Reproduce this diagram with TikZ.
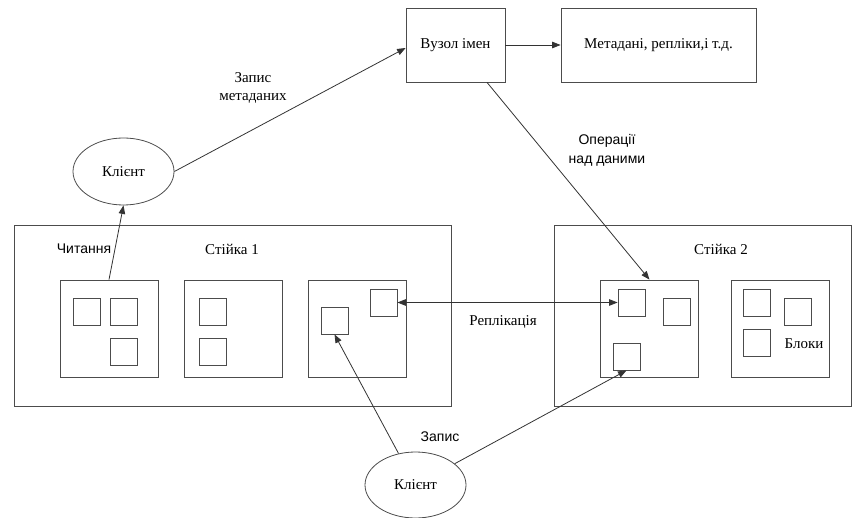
\documentclass[tikz,border=0pt]{standalone}
\usepackage{fontspec}
\setmainfont{Liberation Serif}
\newfontfamily\labelserif{Liberation Serif}
\newfontfamily\labelsans{Liberation Sans}
\usetikzlibrary{arrows.meta,shapes.geometric}
\begin{document}
\begin{tikzpicture}[x=1pt,y=-1pt,
  line width=0.8pt,
  box/.style={draw=black!70,rectangle,inner sep=0pt,font=\labelserif\fontsize{15}{17}\selectfont},
  rack/.style={box,minimum width=#1,minimum height=181pt},
  server/.style={box,minimum width=98pt,minimum height=97pt},
  blk/.style={box,minimum width=27pt,minimum height=27pt},
  client/.style={draw=black!70,ellipse,inner sep=0pt,minimum width=101pt,minimum height=67pt,font=\labelserif\fontsize{15}{17}\selectfont},
  arr/.style={draw=black!80,-{Triangle[length=8.5pt,width=6.5pt]}},
  dblarr/.style={draw=black!80,{Triangle[length=8.5pt,width=6.5pt]}-{Triangle[length=8.5pt,width=6.5pt]}},
  serif/.style={font=\labelserif\fontsize{15}{18}\selectfont,align=center,inner sep=0pt},
  sans/.style={font=\labelsans\fontsize{14}{19}\selectfont,align=center,inner sep=0pt}]
\useasboundingbox (0,0) rectangle (853,518);

% name node and metadata
\node[box,minimum width=99pt,minimum height=74pt] (name) at (455.5,45) {Вузол імен};
\node[box,minimum width=195pt,minimum height=74pt] (meta) at (658.5,45) {Метадані, репліки,і т.д.};

% clients
\node[client] (client1) at (123.5,171.5) {Клієнт};
\node[client,minimum height=66pt] (client2) at (415.5,485) {Клієнт};

% racks
\node[rack=437pt] (rack1) at (232.5,315.5) {};
\node[rack=297pt] (rack2) at (702.5,315.5) {};

% servers
\node[server] (srv1) at (109,328.5) {};
\node[server] (srv2) at (233.5,328.5) {};
\node[server] (srv3) at (357.5,328.5) {};
\node[server] (srv4) at (649.5,328.5) {};
\node[server] (srv5) at (780.5,328.5) {};

% blocks
\node[blk] (b1a) at (86.5,311.5) {};
\node[blk] (b1b) at (123.5,311.5) {};
\node[blk] (b1c) at (123.5,351.5) {};
\node[blk] (b2a) at (212.5,311.5) {};
\node[blk] (b2b) at (212.5,351.5) {};
\node[blk] (b3a) at (334.5,320.5) {};
\node[blk] (b3b) at (383.5,302.5) {};
\node[blk] (b4a) at (631.5,302.5) {};
\node[blk] (b4b) at (676.5,311.5) {};
\node[blk] (b4c) at (626.5,356.5) {};
\node[blk] (b5a) at (757,302.5) {};
\node[blk] (b5b) at (797.5,311.5) {};
\node[blk] (b5c) at (757,342.5) {};

% labels
\node[serif] (lmeta) at (253,88) {Запис\\метаданих};
\node[sans] (lops) at (607,150) {Операції\\над даними};
\node[sans] (lread) at (84,249) {Читання};
\node[serif] (lrack1) at (232,249) {Стійка 1};
\node[serif] (lrack2) at (721,249) {Стійка 2};
\node[serif] (lrepl) at (503,322) {Реплікація};
\node[serif] (lblocks) at (804,344) {Блоки};
\node[sans] (lwrite) at (440,437) {Запис};

% connectors
\draw[arr] (name.east) -- (meta.west);
\draw[arr] (client1.east) -- ([yshift=-3pt]name.west);
\draw[arr] (srv1.north) -- (client1.south);
\draw[arr] ([xshift=31.5pt]name.south) -- (srv4.north);
\draw[dblarr] (b3b.east) -- (b4a.west);
\draw[arr] (client2) -- (b3a.south);
\draw[arr] (client2) -- (b4c.south);
\end{tikzpicture}
\end{document}
